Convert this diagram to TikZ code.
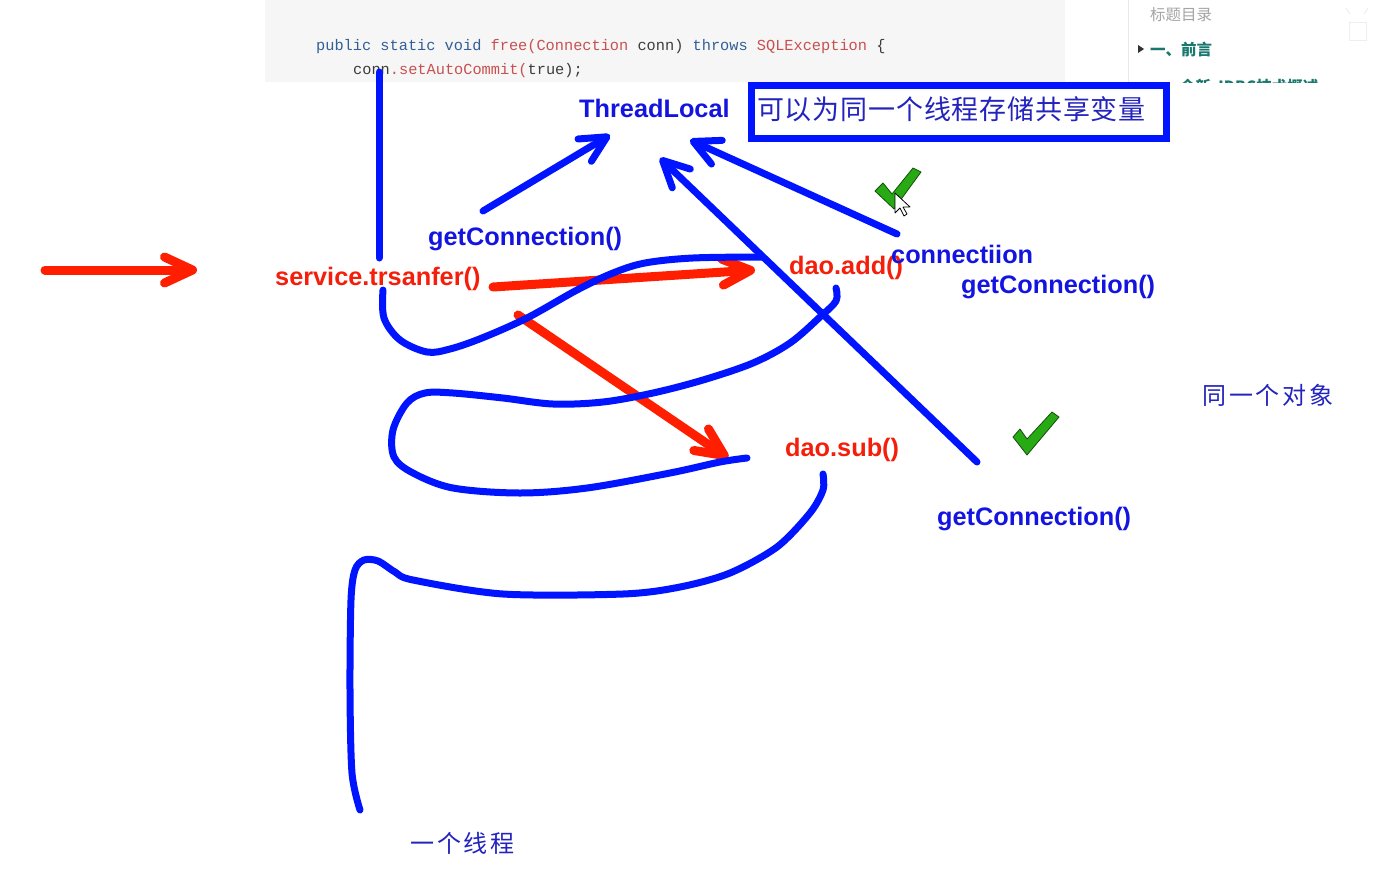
\documentclass[tikz,border=0pt]{standalone}
\usepackage{fontspec}
\setmainfont{Liberation Sans}
\newfontfamily\cjk{Noto Sans CJK SC}
\newfontfamily\cjkbox[LetterSpace=3]{Noto Sans CJK SC}
\newfontfamily\cjkwide[LetterSpace=12]{Noto Sans CJK SC}
\newfontfamily\mono{Liberation Mono}
\usetikzlibrary{arrows.meta}
\definecolor{pen}{RGB}{0,20,255}
\definecolor{txtblue}{RGB}{20,20,225}
\definecolor{redpen}{RGB}{255,30,0}
\definecolor{txtred}{RGB}{245,30,10}
\definecolor{cjkblue}{RGB}{35,35,190}
\definecolor{codebg}{RGB}{246,246,246}
\definecolor{kw}{RGB}{50,95,150}
\definecolor{fn}{RGB}{200,80,80}
\definecolor{pl}{RGB}{60,60,60}
\definecolor{chk}{RGB}{40,170,20}
\definecolor{chkdark}{RGB}{20,80,10}
\definecolor{teal}{RGB}{25,120,110}
\tikzset{
  penline/.style={draw=pen, line width=7pt, line cap=round, line join=round},
  bluearrow/.style={penline, -{Straight Barb[length=26pt,width=26pt,round]}},
  redarrow/.style={draw=redpen, line width=9pt, line cap=round, -{Straight Barb[length=28pt,width=26pt,round]}},
  lbl/.style={inner sep=0pt, anchor=base west, font=\fontsize{25.3}{30}\selectfont\bfseries},
  bluelbl/.style={lbl, text=txtblue},
  redlbl/.style={lbl, text=txtred},
  cjklbl/.style={inner sep=0pt, anchor=base west, text=cjkblue, font=\fontsize{24}{28}\selectfont\cjkwide},
  codetxt/.style={inner sep=0pt, anchor=base west, font=\fontsize{15.3}{18}\selectfont\mono},
  check/.style={fill=chk, draw=chkdark, line width=0.8pt, line join=round},
}
\begin{document}
\begin{tikzpicture}[x=1pt,y=-1pt]
\useasboundingbox (0,0) rectangle (1373,870);
\fill[white] (0,0) rectangle (1373,870);
% screenshot strip
\fill[codebg] (265,0) rectangle (1065,82);
\node[codetxt] (code1) at (316,50) {\textcolor{kw}{public\ static\ void}\ \textcolor{fn}{free(Connection}\ \textcolor{pl}{conn)}\ \textcolor{kw}{throws}\ \textcolor{fn}{SQLException}\ \textcolor{pl}{\{}};
\node[codetxt] (code2) at (353,74) {\textcolor{pl}{conn}\textcolor{fn}{.setAutoCommit(}\textcolor{pl}{true);}};
\draw[color={rgb,255:red,232;green,232;blue,232}, line width=1pt] (1128,0) -- (1128,82);
\node[inner sep=0pt, anchor=base west, text={rgb,255:red,165;green,165;blue,165}, font=\fontsize{15.5}{18}\selectfont\cjk] (toc) at (1150,20) {标题目录};
\fill[black!80] (1138,45) -- (1144,49) -- (1138,53) -- cycle;
\node[inner sep=0pt, anchor=base west, text=teal, font=\fontsize{15.5}{18}\selectfont\cjk\bfseries] (toc1) at (1150,55) {一、前言};
\begin{scope}
\clip (1130,70) rectangle (1373,82);
\node[inner sep=0pt, anchor=base west, text=teal, font=\fontsize{15.5}{18}\selectfont\cjk\bfseries] (toc2) at (1180,92) {全新 JDBC技术概述};
\end{scope}
\draw[color={rgb,255:red,238;green,238;blue,238}, line width=1pt] (1349,22) rectangle (1366,40);
\draw[color={rgb,255:red,238;green,238;blue,238}, line width=1pt] (1346,8) -- (1350,14) (1368,8) -- (1364,14);

% labels
\node[bluelbl] (tl) at (579,117) {ThreadLocal};
\node[bluelbl] (gc1) at (428,245) {getConnection()};
\node[redlbl] (svc) at (275,285) {service.trsanfer()};
\node[redlbl] (add) at (789,274) {dao.add()};
\node[bluelbl] (conn) at (891,263) {connectiion};
\node[bluelbl] (gc2) at (961,293) {getConnection()};
\node[redlbl] (sub) at (785,456) {dao.sub()};
\node[bluelbl] (gc3) at (937,525) {getConnection()};
\node[cjklbl] (same) at (1202,404) {同一个对象};
\node[cjklbl] (thread) at (410,852) {一个线程};

% box
\node[draw=pen, line width=7pt, minimum width=415pt, minimum height=53pt, inner sep=0pt] (box) at (959,112) {};
\node[inner sep=0pt, anchor=base west, text=cjkblue, font=\fontsize{27}{30}\selectfont\cjkbox] (boxtxt) at (757,119) {可以为同一个线程存储共享变量};

% coordinates for connector ends
\coordinate (r0s) at (45,270);
\coordinate (r0e) at (197,270);
\coordinate (r1s) at (493,287);
\coordinate (r1e) at (755,270);
\coordinate (r2s) at (518,315);
\coordinate (r2e) at (728,458);
\coordinate (b1s) at (483,211);
\coordinate (b1e) at (610,135);
\coordinate (b2s) at (897,234);
\coordinate (b2e) at (690,140);
\coordinate (b3s) at (977,462);
\coordinate (b3e) at (660,158);
\coordinate (vs) at (379,72);
\coordinate (ve) at (379,258);

% red arrows
\draw[redarrow] (r0s) -- (r0e);
\draw[redarrow] (r1s) -- (r1e);
\draw[redarrow] (r2s) -- (r2e);

% blue strokes
\draw[penline] (vs) -- (ve);
\draw[penline] plot[smooth, tension=0.55] coordinates {(383,290) (384,318) (400,340) (427,352) (450,349) (482,338) (527,318) (577,290) (613,273) (645,263) (693,258) (762,257)};
\draw[penline] plot[smooth, tension=0.55] coordinates {(836,288) (836,301) (820,317) (790,343) (753,363) (703,380) (653,393) (603,402) (553,404) (503,398) (453,393) (425,393) (407,403) (393,430) (394,457) (413,473) (453,488) (520,493) (587,488) (670,473) (720,462) (747,458)};
\draw[penline] plot[smooth, tension=0.5] coordinates {(823,474) (823,490) (810,513) (777,547) (730,573) (680,587) (623,594) (503,594) (413,580) (395,572) (378,561) (364,560) (355,570) (351,600) (350,690) (352,773) (360,810)};
\draw[bluearrow] (b1s) -- (b1e);
\draw[bluearrow] (b2s) -- (b2e);
\draw[bluearrow] (b3s) -- (b3e);

% check marks
\draw[check] (875,191) -- (883,183) -- (892,194) -- (913,168) -- (921,172) -- (894,209) -- cycle;
\draw[check] (1013,437) -- (1020,429) -- (1027,439) -- (1052,412) -- (1059,417) -- (1027,455) -- cycle;
% mouse cursor
\draw[fill=white, draw=black, line width=0.8pt, line join=round] (895,193) -- (895,213) -- (900,208) -- (904,216) -- (907,214) -- (903,207) -- (910,207) -- cycle;
\end{tikzpicture}
\end{document}
